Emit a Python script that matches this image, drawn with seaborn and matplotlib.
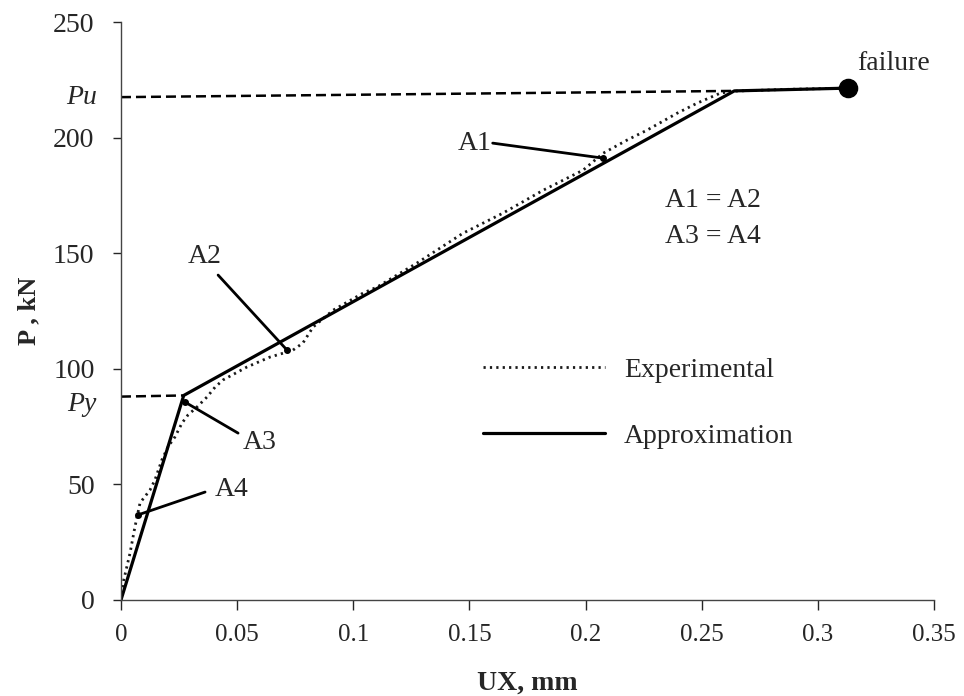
import matplotlib
matplotlib.use("Agg")
import matplotlib.pyplot as plt
import seaborn as sns
import pandas as pd

# ---- data ----
exp_ux = [0.0, 0.0009, 0.0039, 0.0060, 0.0082, 0.0125, 0.0146, 0.0176, 0.0202, 0.0232,
          0.0263, 0.0288, 0.0327, 0.0370, 0.0405, 0.0439, 0.0542, 0.0641, 0.0715, 0.0740,
          0.0783, 0.0827, 0.0913, 0.1042, 0.1102, 0.1274, 0.1472, 0.1644, 0.1817, 0.1989,
          0.2075, 0.2178, 0.2264, 0.2393, 0.2480, 0.2579, 0.2635, 0.2880, 0.3130]
exp_p = [0.0, 7.4, 20.3, 31.6, 42.0, 47.6, 51.9, 60.6, 66.2, 70.5,
         76.6, 80.0, 83.5, 87.8, 92.1, 95.2, 100.8, 105.1, 107.3, 108.1,
         111.2, 118.1, 125.4, 132.8, 135.4, 145.8, 158.7, 167.4, 177.3, 186.0,
         193.3, 199.0, 203.3, 210.6, 215.0, 219.3, 220.2, 221.0, 221.5]

app_ux = [0.0, 0.0270, 0.2640, 0.3130]
app_p = [0.0, 88.5, 220.3, 221.5]

failure_ux = [0.313]
failure_p = [221.5]

pu_ux = [0.0, 0.2640]
pu_p = [217.6, 220.3]
py_ux = [0.0, 0.0270]
py_p = [88.0, 88.5]

# annotation labels: (text, text position, pointed position)
ann_labels = ["A1", "A2", "A3", "A4"]
ann_text_xy = [(0.1524, 197.7), (0.0362, 148.5), (0.0595, 68.0), (0.0478, 48.0)]
ann_line_start = [(0.1600, 197.7), (0.0418, 140.6), (0.0504, 72.2), (0.0362, 46.7)]
ann_point_xy = [(0.2075, 191.2), (0.0715, 108.1), (0.0276, 85.6), (0.0073, 36.8)]

x_ticks = [0, 0.05, 0.1, 0.15, 0.2, 0.25, 0.3, 0.35]
x_tick_labels = ["0", "0.05", "0.1", "0.15", "0.2", "0.25", "0.3", "0.35"]
y_ticks = [0, 50, 100, 150, 200, 250]

# ---- style ----
sns.set_style("ticks")
plt.rcParams["font.family"] = ["Liberation Serif", "DejaVu Serif"]

fig = plt.figure(figsize=(9.64, 6.96), dpi=100)
ax = fig.add_axes([0.1255, 0.138, 0.8435, 0.830])

exp_df = pd.DataFrame({"ux": exp_ux, "p": exp_p})
app_df = pd.DataFrame({"ux": app_ux, "p": app_p})

sns.lineplot(data=exp_df, x="ux", y="p", ax=ax, sort=False, color="#1a1a1a",
             linewidth=2.0, linestyle=(0, (0.8, 1.5)), label="Experimental")
sns.lineplot(data=app_df, x="ux", y="p", ax=ax, sort=False, color="black",
             linewidth=2.3, label="Approximation")

ax.plot(pu_ux, pu_p, color="black", linewidth=1.8, linestyle=(0, (4, 2)))
ax.plot(py_ux, py_p, color="black", linewidth=1.8, linestyle=(0, (4, 2)))

sns.scatterplot(x=failure_ux, y=failure_p, ax=ax, color="black", s=170,
                edgecolor="black", zorder=5, legend=False)
ax.text(failure_ux[0] + 0.0195, failure_p[0] + 10.5, "failure", fontsize=20,
        ha="center", va="center")

for lab, txy, sxy, pxy in zip(ann_labels, ann_text_xy, ann_line_start, ann_point_xy):
    ax.text(txy[0], txy[1], lab, fontsize=20, ha="center", va="center")
    ax.plot([sxy[0], pxy[0]], [sxy[1], pxy[1]], color="black", linewidth=2.0)
    ax.plot([pxy[0]], [pxy[1]], marker="o", color="black", markersize=4)

ax.text(0.2548, 173.0, "A1 = A2", fontsize=20, ha="center", va="center")
ax.text(0.2548, 157.4, "A3 = A4", fontsize=20, ha="center", va="center")

ax.text(-0.0295, pu_p[0], "Pu", fontsize=20, style="italic", ha="right", va="center",
        transform=ax.get_yaxis_transform())
ax.text(-0.0295, 84.5, "Py", fontsize=20, style="italic", ha="right", va="center",
        transform=ax.get_yaxis_transform())

ax.set_xlim(0, 0.35)
ax.set_ylim(0, 250)
ax.set_xticks(x_ticks)
ax.set_xticklabels(x_tick_labels)
ax.set_yticks(y_ticks)
ax.tick_params(axis="x", labelsize=18, length=7, width=1, pad=10, direction="out")
ax.tick_params(axis="y", labelsize=20, length=6, width=1, pad=13, direction="out")
sns.despine(ax=ax)
for s in ["left", "bottom"]:
    ax.spines[s].set_linewidth(1.0)
    ax.spines[s].set_color("#444444")

ax.set_xlabel("UX, mm", fontsize=20, fontweight="bold", labelpad=18)
ax.set_ylabel("P , kN", fontsize=19, fontweight="bold", labelpad=9)

ax.legend(loc="upper left", bbox_to_anchor=(0.445, 0.42), frameon=False,
          fontsize=20, handlelength=4.4, handletextpad=0.68, labelspacing=1.46,
          borderpad=0, borderaxespad=0)

fig.savefig("out.png", dpi=100)
